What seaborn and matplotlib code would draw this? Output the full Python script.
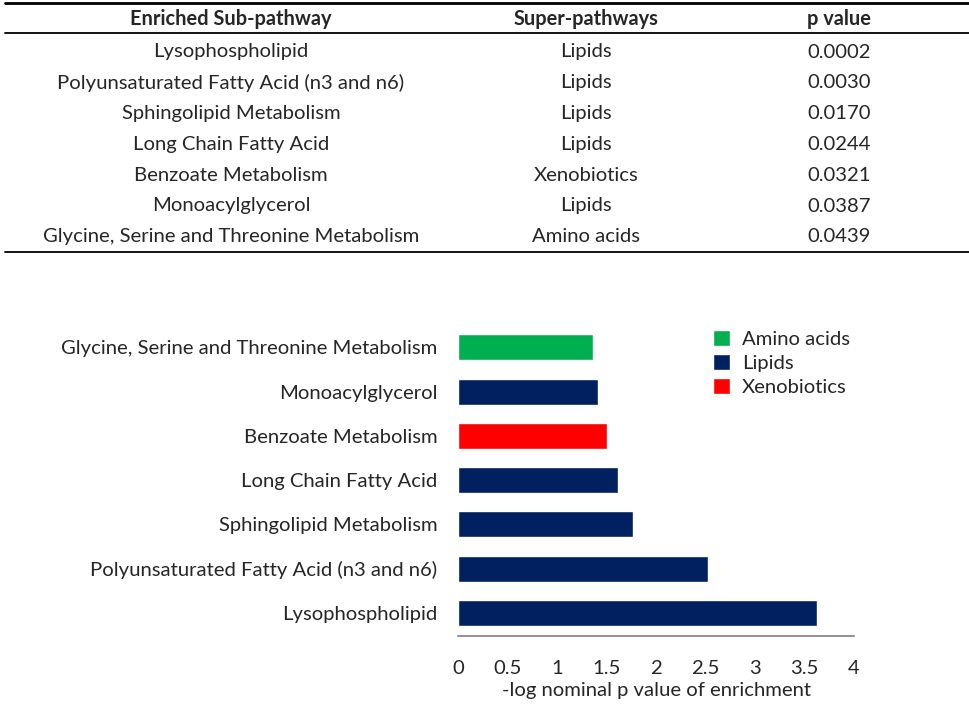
import matplotlib
matplotlib.use('Agg')
import matplotlib.pyplot as plt
import seaborn as sns
import pandas as pd

# Data
pathways = ['Lysophospholipid',
            'Polyunsaturated Fatty Acid (n3 and n6)',
            'Sphingolipid Metabolism',
            'Long Chain Fatty Acid',
            'Benzoate Metabolism',
            'Monoacylglycerol',
            'Glycine, Serine and Threonine Metabolism']
super_pathways = ['Lipids', 'Lipids', 'Lipids', 'Lipids', 'Xenobiotics', 'Lipids', 'Amino acids']
p_values = ['0.0002', '0.0030', '0.0170', '0.0244', '0.0321', '0.0387', '0.0439']
neg_log_p = [3.63, 2.53, 1.77, 1.62, 1.50, 1.41, 1.36]
headers = ['Enriched Sub-pathway', 'Super-pathways', 'p value']
x_ticks = [0, 0.5, 1, 1.5, 2, 2.5, 3, 3.5, 4]
x_tick_labels = ['0', '0.5', '1', '1.5', '2', '2.5', '3', '3.5', '4']

hue_order = ['Amino acids', 'Lipids', 'Xenobiotics']
palette = {'Amino acids': '#00B050', 'Lipids': '#002060', 'Xenobiotics': '#FF0000'}

sns.set_style('white')
plt.rcParams['font.family'] = ['Lato', 'DejaVu Sans']

W, H = 969, 708
fig = plt.figure(figsize=(W / 100, H / 100), dpi=100)
renderer = fig.canvas.get_renderer()


def fit_size(text, target_px, weight='normal'):
    # pick a font size so the text is about as wide as in the reference
    t = fig.text(0, 0, text, fontsize=10, fontweight=weight)
    w = t.get_window_extent(renderer).width
    t.remove()
    return 10 * target_px / w


fs = fit_size('Glycine, Serine and Threonine Metabolism', 377)
fs_head = fit_size('Enriched Sub-pathway', 202, 'bold')

# ---- table on top ----
col_x = [231, 586, 839]
for x, h in zip(col_x, headers):
    fig.text(x / W, 1 - 19 / H, h, ha='center', va='center', fontsize=fs_head, fontweight='bold')
row_y0, row_dy = 52, 30.8
for i in range(len(pathways)):
    y = 1 - (row_y0 + i * row_dy) / H
    fig.text(col_x[0] / W, y, pathways[i], ha='center', va='center', fontsize=fs)
    fig.text(col_x[1] / W, y, super_pathways[i], ha='center', va='center', fontsize=fs)
    fig.text(col_x[2] / W, y, p_values[i], ha='center', va='center', fontsize=fs)
for yy, lw in [(3, 2.0), (33, 1.3), (252, 1.3)]:
    fig.add_artist(plt.Line2D([0.005, 1], [1 - yy / H, 1 - yy / H], color='black', lw=lw))

# ---- bar chart ----
df = pd.DataFrame({'pathway': pathways, 'super': super_pathways, 'score': neg_log_p})
df = df.iloc[::-1].reset_index(drop=True)

ax = fig.add_axes([458 / W, 1 - 636 / H, (854 - 458) / W, (636 - 323) / H])
sns.barplot(data=df, x='score', y='pathway', hue='super', hue_order=hue_order,
            palette=palette, dodge=False, width=0.59, saturation=1, ax=ax)
ax.set_xlim(0, 4)
ax.set_ylim(6.52, -0.55)
ax.set_xticks(x_ticks)
ax.set_xticklabels(x_tick_labels)
ax.tick_params(axis='both', length=0, labelsize=fs)
ax.tick_params(axis='x', pad=17)
ax.tick_params(axis='y', pad=15)
ax.set_ylabel('')
ax.set_xlabel('-log nominal p value of enrichment', fontsize=fs, labelpad=4)
for s in ['top', 'right', 'left']:
    ax.spines[s].set_visible(False)
ax.spines['bottom'].set_color('#7f7f7f')
ax.spines['bottom'].set_linewidth(1.2)

leg = ax.legend(loc='upper left', bbox_to_anchor=(713 / W, 1 - 330 / H),
                bbox_transform=fig.transFigure,
                frameon=False, fontsize=fs, handlelength=0.82, handleheight=0.82,
                handletextpad=0.6, labelspacing=0.3, borderaxespad=0, borderpad=0)

fig.savefig('out.png', dpi=100)
